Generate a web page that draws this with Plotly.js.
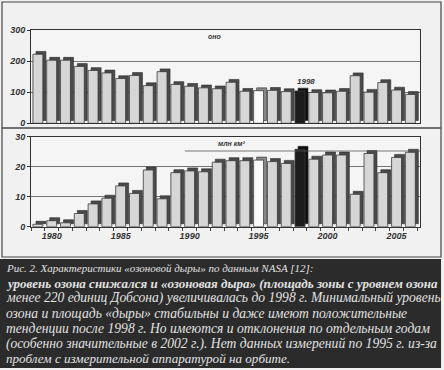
<!DOCTYPE html>
<html>
<head>
<meta charset="utf-8">
<script src="https://cdn.plot.ly/plotly-3.0.1.min.js"></script>
<style>html,body{margin:0;padding:0;background:#f1f1f1;}#chart{width:444px;height:370px;}</style>
</head>
<body>
<div id="chart"></div>
<script>
// ---- data ----
const years = [1979,1980,1981,1982,1983,1984,1985,1986,1987,1988,1989,1990,1991,1992,
               1993,1994,1995,1996,1997,1998,1999,2000,2001,2002,2003,2004,2005,2006];
// minimum ozone level, Dobson units
const ozone = [222,203,203,183,170,162,144,154,121,166,125,119,114,111,
               132,103,105,106,102,104,99,98,103,153,100,131,107,93];
// ozone hole area, million km2
const area = [0.8,2.0,1.3,4.4,7.6,9.5,13.6,11.1,18.9,9.3,18.0,18.6,18.3,21.5,
              22.0,22.0,22.2,21.7,21.1,25.8,22.5,23.9,23.9,10.8,24.4,18.0,23.1,24.8];
const xTickVals = [1980,1985,1990,1995,2000,2005];
const xTickText = ['1980','1985','1990','1995','2000','2005'];
const ozoneTicks = [0,100,200,300];
const areaTicks = [0,10,20,30];
const noDataYear = 1995;
const recordYear = 1998;
const captionLines = [
  'Рис. 2. Характеристики «озоновой дыры» по данным NASA [12]:',
  '<b>уровень озона снижался и «озоновая дыра» (площадь зоны с уровнем озона</b>',
  'менее 220 единиц Добсона) увеличивалась до 1998 г. Минимальный уровень',
  'озона и площадь «дыры» стабильны и даже имеют положительные',
  'тенденции после 1998 г. Но имеются и отклонения по отдельным годам',
  '(особенно значительные в 2002 г.). Нет данных измерений по 1995 г. из-за',
  'проблем с измерительной аппаратурой на орбите.'
];
const captionSizes = [11, 13, 13.6, 13.6, 13.6, 13.6, 13.1];

// ---- styling ----
const frontCol = years.map(y => y === noDataYear ? '#fbfbfb' : (y === recordYear ? '#1c1c1c' : '#d6d6d6'));
const sideCol  = years.map(y => y === noDataYear ? '#8a8a8a' : (y === recordYear ? '#0e0e0e' : '#4a4a4a'));
const W = 0.72, SHIFT = 0.22;
const H = 370, Wd = 444;
const py = p => (H - p) / H;
const px = p => p / Wd;
const tickFont = {family: 'Liberation Sans, Arial, sans-serif', size: 9, color: '#333', style: 'italic', weight: 'bold'};

function bars(vals, xa, ya, depth) {
  return [
    {type: 'bar', x: years, y: vals, base: depth, width: W, offset: -W/2 + SHIFT,
     xaxis: xa, yaxis: ya, marker: {color: sideCol, line: {color: '#2a2a2a', width: 0.6}}, hoverinfo: 'skip'},
    {type: 'bar', x: years, y: vals, width: W, offset: -W/2,
     xaxis: xa, yaxis: ya, marker: {color: frontCol, line: {color: '#3a3a3a', width: 0.8}}}
  ];
}

const data = [].concat(bars(ozone, 'x', 'y', 9), bars(area, 'x2', 'y2', 1));

const xDomain = [px(31), px(420)];
const xRange = [1978.5, 2006.7];
const baseAxis = {showline: true, mirror: true, linecolor: '#333', linewidth: 1, zeroline: false, fixedrange: true};

const annotations = captionLines.map((t, i) => ({
  xref: 'paper', yref: 'paper', x: px(4), y: py(268 + i * 15.1), xanchor: 'left', yanchor: 'middle',
  text: t, showarrow: false,
  font: {family: 'Liberation Serif, Times New Roman, serif', size: captionSizes[i], color: '#e2e2e2', style: 'italic'}
}));
const labelFont = s => ({family: 'Liberation Sans, Arial', size: s, color: '#333', style: 'italic', weight: 'bold'});
annotations.push(
  {xref: 'paper', yref: 'paper', x: px(215), y: py(36), xanchor: 'center', yanchor: 'middle',
   text: 'оно', showarrow: false, font: labelFont(7)},
  {xref: 'paper', yref: 'paper', x: px(306), y: py(81), xanchor: 'center', yanchor: 'middle',
   text: '1998', showarrow: false, font: labelFont(8)},
  {xref: 'paper', yref: 'paper', x: px(231), y: py(143), xanchor: 'center', yanchor: 'middle',
   text: 'млн км²', showarrow: false, font: labelFont(7)}
);

const layout = {
  width: 444, height: 370,
  margin: {l: 0, r: 0, t: 0, b: 0},
  paper_bgcolor: '#f1f1f1', plot_bgcolor: '#f5f5f5',
  barmode: 'overlay', showlegend: false,
  xaxis: Object.assign({}, baseAxis, {domain: xDomain, range: xRange, anchor: 'y', showticklabels: false, showgrid: false, ticks: ''}),
  yaxis: Object.assign({}, baseAxis, {domain: [py(123.3), py(30)], range: [0, 300], anchor: 'x',
    tickvals: ozoneTicks, ticks: 'outside', ticklen: 3, tickcolor: '#333', tickfont: tickFont,
    showgrid: true, gridcolor: '#555', gridwidth: 0.8}),
  xaxis2: Object.assign({}, baseAxis, {domain: xDomain, range: xRange, anchor: 'y2',
    tickvals: xTickVals, ticktext: xTickText, ticks: '', tickfont: tickFont, showgrid: false,
    minor: {tick0: 1978.5, dtick: 1, ticks: 'outside', ticklen: 3, tickcolor: '#444', showgrid: false}}),
  yaxis2: Object.assign({}, baseAxis, {domain: [py(226.7), py(136.7)], range: [0, 30], anchor: 'x2',
    tickvals: areaTicks, ticks: 'outside', ticklen: 3, tickcolor: '#333', tickfont: tickFont,
    showgrid: true, gridcolor: '#555', gridwidth: 0.8}),
  shapes: [
    {type: 'rect', xref: 'paper', yref: 'paper', x0: px(2), x1: px(441), y0: py(257), y1: py(2),
     line: {color: '#444', width: 1.2}, layer: 'below'},
    {type: 'line', xref: 'paper', yref: 'paper', x0: px(2), x1: px(441), y0: py(128), y1: py(128),
     line: {color: '#444', width: 1.5}},
    {type: 'line', xref: 'paper', yref: 'paper', x0: px(185), x1: px(420), y0: py(151), y1: py(151),
     line: {color: '#555', width: 0.8}},
    {type: 'rect', xref: 'paper', yref: 'paper', x0: 0, x1: px(441), y0: py(368), y1: py(259),
     fillcolor: '#2b2b2b', line: {width: 0}}
  ],
  annotations: annotations
};

Plotly.newPlot('chart', data, layout, {staticPlot: true, displayModeBar: false});
</script>
</body>
</html>
